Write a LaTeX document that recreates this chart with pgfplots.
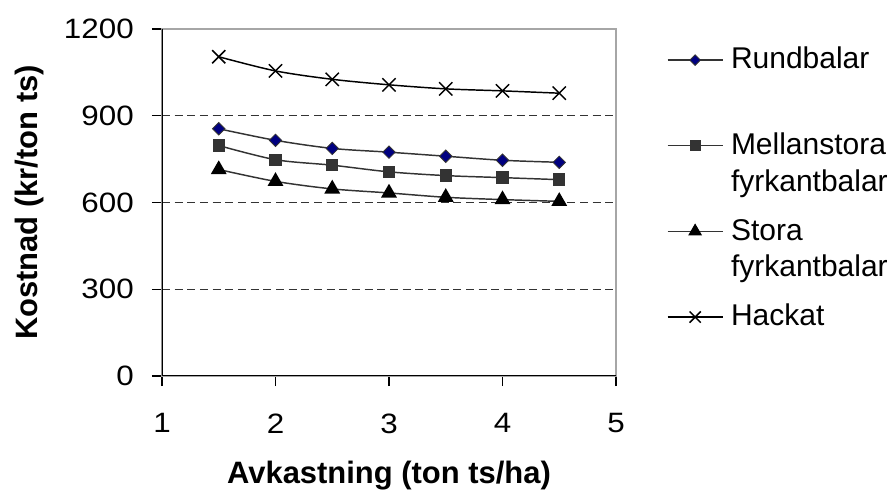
\documentclass[border=0pt]{standalone}
\usepackage{fontspec}
\setmainfont{Liberation Sans}
\usepackage{graphicx}
\usepackage{pgfplots}
\pgfplotsset{compat=1.18}
\definecolor{navy}{HTML}{000080}
\definecolor{dgray}{HTML}{333333}
\newcommand{\tickfont}{\fontsize{21}{25}\selectfont}
\newcommand{\legfont}{\fontsize{22.5}{27.5}\selectfont}
\newcommand{\labfont}{\fontsize{23.2}{28}\selectfont\bfseries}
\begin{document}
\begin{tikzpicture}[font=\legfont]
\useasboundingbox (-121.5pt,-87pt) rectangle (547.5pt,282pt);
\begin{axis}[
  at={(0,0)}, anchor=south west,
  scale only axis, width=340.5pt, height=260.25pt,
  xmin=1, xmax=5, ymin=0, ymax=1200,
  xtick={1,2,3,4,5}, ytick={0,300,600,900,1200},
  tick align=outside, major tick length=7.5pt,
  tick pos=left, tick style={black, line width=0.8pt},
  /pgf/number format/assume math mode=true,
  /pgf/number format/set thousands separator={},
  xticklabel={\scalebox{1.12}[1]{\pgfmathprintnumber{\tick}}},
  yticklabel={\scalebox{1.12}[1]{\pgfmathprintnumber{\tick}}},
  axis line style={draw=gray!70, line width=0.8pt},
  every tick label/.append style={font=\tickfont},
  yticklabel style={anchor=east, inner sep=0pt, xshift=-13.5pt},
  xticklabel style={anchor=north, inner sep=0pt, yshift=-20.5pt},
  every axis x label/.style={at={(axis description cs:0.5,0)}, anchor=north, inner sep=0pt, yshift=-63.5pt, font=\labfont},
  every axis y label/.style={at={(axis description cs:-0.3238,0.5)}, anchor=north, rotate=90, inner sep=0pt, font=\labfont},
  xlabel={Avkastning (ton ts/ha)},
  ylabel={Kostnad (kr/ton ts)},
  extra y ticks={300,600,900}, extra y tick labels={},
  extra y tick style={grid=major, major tick length=0pt, grid style={black!80, line width=0.7pt, dash pattern=on 6pt off 3.5pt}},
  legend style={at={(axis description cs:1,1)}, anchor=north west, xshift=38pt, yshift=-10.5pt,
    draw=none, fill=none, inner sep=0pt, nodes={inner sep=0pt}, column sep=5.7pt, row sep=16pt,
    cells={align=left}, font=\legfont},
  legend cell align=left,
  legend image code/.code={\draw[mark repeat=2,mark phase=2,#1,every mark/.append style={scale=0.85}] plot coordinates {(0pt,11.5pt) (20.6pt,11.5pt) (41.25pt,11.5pt)};},
]
\draw[black, line width=0.8pt] (rel axis cs:0,1) -- (rel axis cs:0,0) -- (rel axis cs:1,0);
\addplot[smooth, dgray, line width=1.1pt, mark=square*, mark size=3.3pt, mark options={rotate=45, fill=navy, draw=dgray, line width=0.6pt, solid}]
 coordinates {(1.5,855) (2,815) (2.5,787) (3,774) (3.5,760) (4,746) (4.5,739)};
\addlegendentry{\strut Rundbalar\\\strut}
\addplot[smooth, dgray, line width=1.1pt, mark=square*, mark size=4.1pt, mark options={fill=dgray, draw=dgray, solid}]
 coordinates {(1.5,797) (2,748) (2.5,729) (3,706) (3.5,693) (4,686) (4.5,679)};
\addlegendentry{\strut Mellanstora\\\strut fyrkantbalar}
\addplot[smooth, dgray, line width=1.1pt, mark=triangle*, mark size=5.8pt, mark options={fill=black, draw=black, solid}]
 coordinates {(1.5,714) (2,673) (2.5,647) (3,633) (3.5,618) (4,610) (4.5,604)};
\addlegendentry{\strut Stora\\\strut fyrkantbalar}
\addplot[smooth, black, line width=1.1pt, mark=x, mark size=7pt, mark options={black, line width=1.1pt, solid}]
 coordinates {(1.5,1104) (2,1055) (2.5,1026) (3,1007) (3.5,993) (4,986) (4.5,978)};
\addlegendentry{\strut Hackat\\\strut}
\end{axis}
\end{tikzpicture}
\end{document}
